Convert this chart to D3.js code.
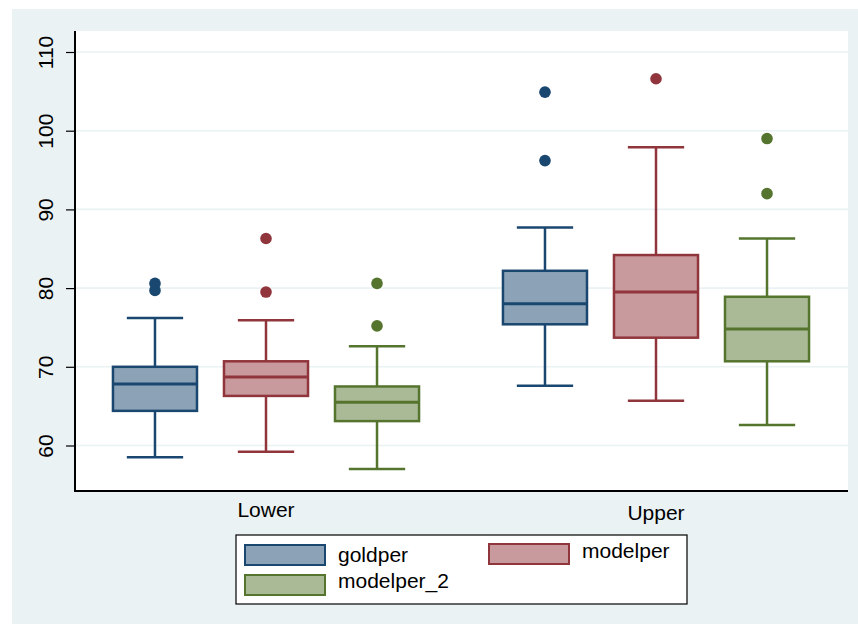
<!DOCTYPE html>
<html>
<head>
<meta charset="utf-8">
<script src="https://cdn.jsdelivr.net/npm/d3@7"></script>
<style>
  body { margin: 0; background: #fff; }
  text { font-family: "Liberation Sans", Arial, Helvetica, sans-serif; fill: #000; }
</style>
</head>
<body>
<svg width="858" height="624"></svg>
<script>
const groups = ["Lower", "Upper"];
const series = ["goldper", "modelper", "modelper_2"];
const yTicks = [60, 70, 80, 90, 100, 110];

// stats per group, in series order
const whiskerLow = [[58.5, 59.2, 57.0], [67.6, 65.7, 62.6]];
const q1 = [[64.4, 66.3, 63.1], [75.4, 73.7, 70.7]];
const median = [[67.8, 68.7, 65.5], [78.0, 79.5, 74.8]];
const q3 = [[70.0, 70.7, 67.5], [82.2, 84.2, 78.9]];
const whiskerHigh = [[76.2, 75.9, 72.6], [87.7, 97.9, 86.3]];
const outliers = [
  [[80.6, 79.7], [86.3, 79.5], [80.6, 75.2]],
  [[104.9, 96.2], [106.6], [99.0, 92.0]]
];

const strokeColors = ["#1a476f", "#90353b", "#55752f"];
const fillColors = ["#8ca3b7", "#c89a9d", "#aaba97"];

const svg = d3.select("svg");

// outer background
svg.append("rect")
  .attr("x", 12).attr("y", 9)
  .attr("width", 846).attr("height", 615)
  .attr("fill", "#eaf2f3");

const plot = { left: 75, right: 848, top: 31, bottom: 491 };

svg.append("rect")
  .attr("x", plot.left).attr("y", plot.top)
  .attr("width", plot.right - plot.left)
  .attr("height", plot.bottom - plot.top)
  .attr("fill", "#fff");

const y = d3.scaleLinear().domain([60, 110]).range([445.5, 52]);

const x = d3.scaleBand().domain(groups).range([71, 851]).padding(0);
const xs = d3.scaleBand()
  .domain(series)
  .range([0, x.bandwidth()])
  .paddingInner(0.243)
  .paddingOuter(0.378);

// grid lines
svg.append("g")
  .selectAll("line")
  .data(yTicks)
  .enter()
  .append("line")
  .attr("x1", plot.left)
  .attr("x2", plot.right)
  .attr("y1", (d) => y(d))
  .attr("y2", (d) => y(d))
  .attr("stroke", "#eaf2f3")
  .attr("stroke-width", 1.6);

// y axis
const yAxisGroup = svg.append("g").attr("transform", `translate(${plot.left},0)`);
yAxisGroup.call(d3.axisLeft(y).tickValues(yTicks).tickSize(9).tickPadding(0));
yAxisGroup.select(".domain").remove();
yAxisGroup.selectAll(".tick line").attr("stroke", "#000").attr("stroke-width", 1.2);
yAxisGroup.selectAll(".tick text")
  .attr("transform", "rotate(-90)")
  .attr("x", 0)
  .attr("y", -22)
  .attr("dy", 0)
  .attr("text-anchor", "middle")
  .style("font-size", "21px")
  .style("font-family", '"Liberation Sans", Arial, sans-serif')
  .attr("fill", "#000");

// axis lines
svg.append("line")
  .attr("x1", plot.left).attr("x2", plot.left)
  .attr("y1", plot.top).attr("y2", plot.bottom + 1)
  .attr("stroke", "#000").attr("stroke-width", 2);
svg.append("line")
  .attr("x1", plot.left - 1).attr("x2", plot.right)
  .attr("y1", plot.bottom).attr("y2", plot.bottom)
  .attr("stroke", "#000").attr("stroke-width", 2);

// boxes
const boxes = [];
groups.forEach((g, gi) => {
  series.forEach((s, si) => {
    boxes.push({
      g, s, si,
      lo: whiskerLow[gi][si], q1: q1[gi][si], med: median[gi][si],
      q3: q3[gi][si], hi: whiskerHigh[gi][si], out: outliers[gi][si]
    });
  });
});

const bw = xs.bandwidth();
const capW = bw * 0.67;

const boxG = svg.append("g")
  .selectAll("g")
  .data(boxes)
  .enter()
  .append("g")
  .attr("transform", (d) => `translate(${x(d.g) + xs(d.s)},0)`);

// whiskers
boxG.append("line")
  .attr("x1", bw / 2).attr("x2", bw / 2)
  .attr("y1", (d) => y(d.hi)).attr("y2", (d) => y(d.q3))
  .attr("stroke", (d) => strokeColors[d.si]).attr("stroke-width", 2.5);
boxG.append("line")
  .attr("x1", bw / 2).attr("x2", bw / 2)
  .attr("y1", (d) => y(d.q1)).attr("y2", (d) => y(d.lo))
  .attr("stroke", (d) => strokeColors[d.si]).attr("stroke-width", 2.5);
// caps
boxG.append("line")
  .attr("x1", (bw - capW) / 2).attr("x2", (bw + capW) / 2)
  .attr("y1", (d) => y(d.hi)).attr("y2", (d) => y(d.hi))
  .attr("stroke", (d) => strokeColors[d.si]).attr("stroke-width", 2.5);
boxG.append("line")
  .attr("x1", (bw - capW) / 2).attr("x2", (bw + capW) / 2)
  .attr("y1", (d) => y(d.lo)).attr("y2", (d) => y(d.lo))
  .attr("stroke", (d) => strokeColors[d.si]).attr("stroke-width", 2.5);

boxG.append("rect")
  .attr("x", 0)
  .attr("width", bw)
  .attr("y", (d) => y(d.q3))
  .attr("height", (d) => y(d.q1) - y(d.q3))
  .attr("fill", (d) => fillColors[d.si])
  .attr("stroke", (d) => strokeColors[d.si])
  .attr("stroke-width", 2.5);

boxG.append("line")
  .attr("x1", 0).attr("x2", bw)
  .attr("y1", (d) => y(d.med)).attr("y2", (d) => y(d.med))
  .attr("stroke", (d) => strokeColors[d.si]).attr("stroke-width", 3);

boxG.selectAll("circle")
  .data((d) => d.out.map((v) => ({ v, si: d.si })))
  .enter()
  .append("circle")
  .attr("cx", bw / 2)
  .attr("cy", (d) => y(d.v))
  .attr("r", 5.8)
  .attr("fill", (d) => strokeColors[d.si]);

// category labels (Stata staggers them slightly)
const labelBase = [517, 520];
svg.append("g")
  .selectAll("text")
  .data(groups)
  .enter()
  .append("text")
  .attr("x", (d) => x(d) + x.bandwidth() / 2)
  .attr("y", (d, i) => labelBase[i])
  .attr("text-anchor", "middle")
  .style("font-size", "21px")
  .text((d) => d);

// legend
const legend = svg.append("g");
legend.append("rect")
  .attr("x", 236).attr("y", 535)
  .attr("width", 451).attr("height", 69)
  .attr("fill", "#fff")
  .attr("stroke", "#000").attr("stroke-width", 1.2);

const legendPos = [
  { kx: 245, ky: 545, tx: 338, ty: 562 },
  { kx: 489, ky: 544, tx: 582, ty: 558 },
  { kx: 245, ky: 575, tx: 338, ty: 588 }
];

const items = legend.selectAll("g.item")
  .data(series)
  .enter()
  .append("g")
  .attr("class", "item");

items.append("rect")
  .attr("x", (d, i) => legendPos[i].kx)
  .attr("y", (d, i) => legendPos[i].ky)
  .attr("width", 80).attr("height", 20)
  .attr("fill", (d, i) => fillColors[i])
  .attr("stroke", (d, i) => strokeColors[i])
  .attr("stroke-width", 2);

items.append("text")
  .attr("x", (d, i) => legendPos[i].tx)
  .attr("y", (d, i) => legendPos[i].ty)
  .style("font-size", "21px")
  .text((d) => d);
</script>
</body>
</html>
